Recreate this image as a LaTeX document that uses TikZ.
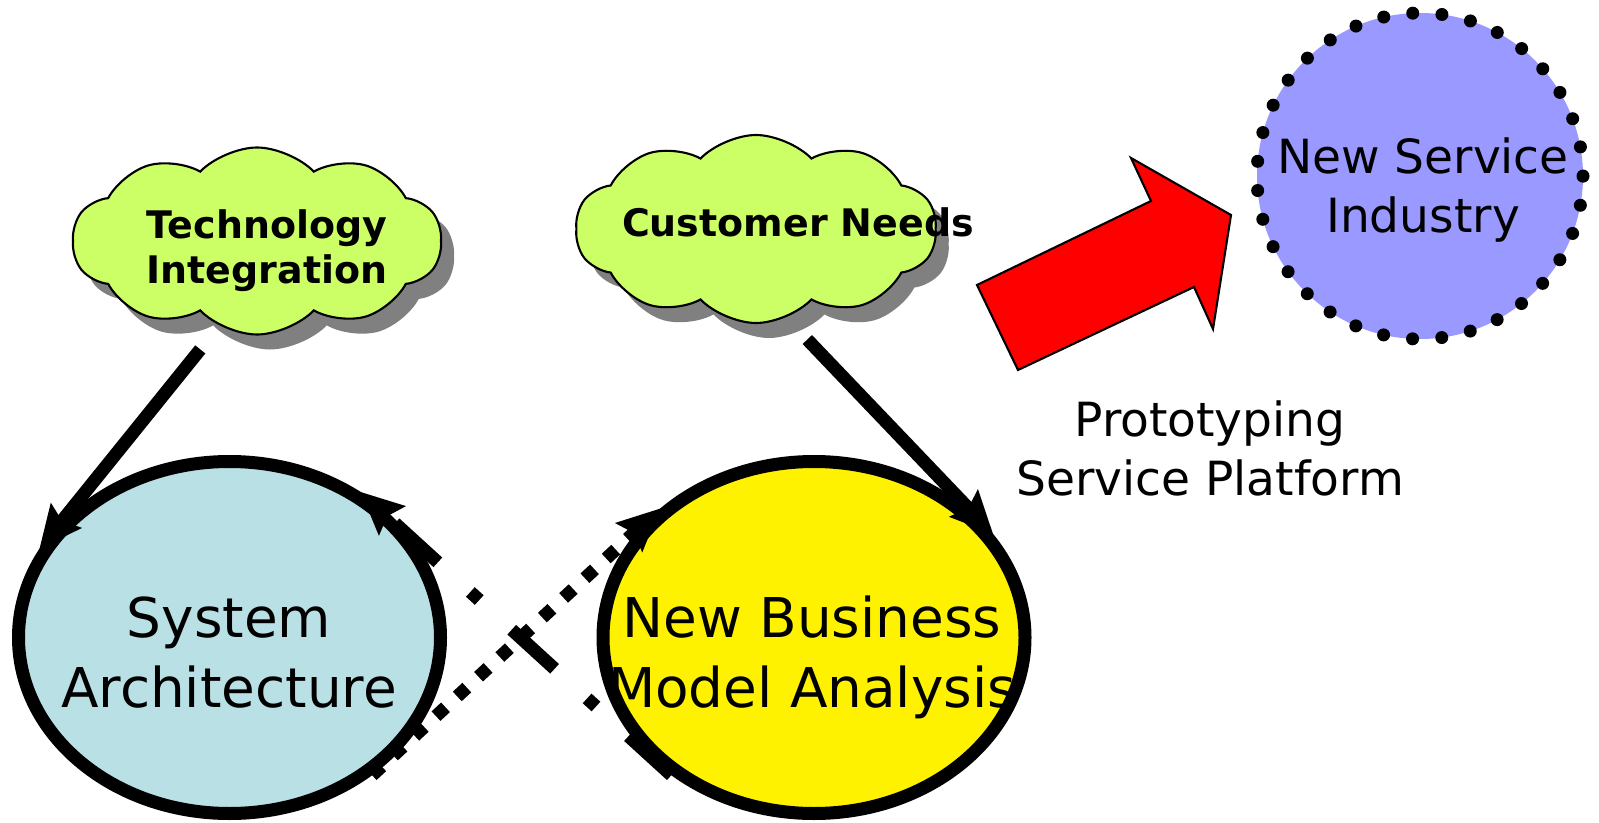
\documentclass[tikz,border=0pt]{standalone}
\usepackage{fontspec}
\setmainfont{DejaVu Sans}
\usetikzlibrary{shapes.geometric,shapes.symbols,shadows,arrows.meta}
\definecolor{cloudgreen}{RGB}{204,255,102}
\definecolor{archblue}{RGB}{185,224,228}
\definecolor{servblue}{RGB}{153,153,255}
\begin{document}
\begin{tikzpicture}[
    bubble/.style={ellipse,draw,line width=.13cm,minimum width=4.22cm,
      minimum height=3.52cm,inner sep=0pt},
    puff/.style={cloud,cloud puffs=10,cloud puff arc=92,cloud ignores aspect,
      draw,line width=.6pt,fill=cloudgreen,minimum width=3.69cm,
      minimum height=1.87cm,inner sep=0pt,
      drop shadow={shadow xshift=.13cm,shadow yshift=-.15cm,fill=black!50,opacity=1}},
    servring/.style={circle,fill=servblue,draw,line width=.13cm,line cap=round,
      dash pattern=on 0pt off .2926cm,minimum size=3.26cm,inner sep=0pt},
    bigtext/.style={align=center,anchor=base,inner sep=0pt,
      font=\fontsize{15.6}{19.9}\selectfont},
    cloudtext/.style={align=center,anchor=base,inner sep=0pt,
      font=\bfseries\fontsize{10.8}{12.8}\selectfont},
    midtext/.style={align=center,anchor=base,inner sep=0pt,
      font=\fontsize{13.4}{16.6}\selectfont},
    link/.style={line width=.13cm,-{Stealth[length=.42cm,width=.38cm,inset=.06cm]}},
  ]
  \useasboundingbox (0,0) rectangle (15.99,8.22);

  % the two ellipses
  \node[bubble,fill=archblue] (sa) at (2.295,1.845) {};
  \node[bubble,fill=yellow] (nb) at (8.14,1.845) {};

  % clouds
  \node[puff] (tech) at (2.57,5.81) {};
  \node[puff,minimum width=3.61cm,minimum height=1.88cm] (cust) at (7.56,5.93) {};

  % target
  \node[servring] (nsi) at (14.20,6.46) {};

  % big red arrow
  \filldraw[fill=red,draw=black,line width=.6pt] (9.77,5.37) -- (11.51,6.21)
    -- (11.31,6.64) -- (12.31,6.07) -- (12.13,4.93) -- (11.94,5.35)
    -- (10.18,4.52) -- cycle;

  % connectors
  \draw[link,shorten <=.3cm] (tech.246) -- (sa.155);
  \draw[link,shorten <=.3cm] (cust.289) -- (nb.30);
  \draw[link,dash pattern=on .13cm off .16cm] (sa.316) -- (nb.140);
  \draw[link,dash pattern=on .58cm off .44cm on .12cm off .44cm] (nb.224) -- (sa.48);

  % texts (base = last line)
  \node[cloudtext] (techtext) at (2.67,5.39) {Technology\\Integration};
  \node[cloudtext] (custtext) at (7.98,5.85) {Customer Needs};
  \node[bigtext] (satext) at (2.29,1.15) {System\\Architecture};
  \node[bigtext] (nbtext) at (8.12,1.15) {New Business\\Model Analysis};
  \node[midtext] (nsitext) at (14.23,5.90) {New Service\\Industry};
  \node[midtext] (prototext) at (12.10,3.27) {Prototyping\\Service Platform};
\end{tikzpicture}
\end{document}
